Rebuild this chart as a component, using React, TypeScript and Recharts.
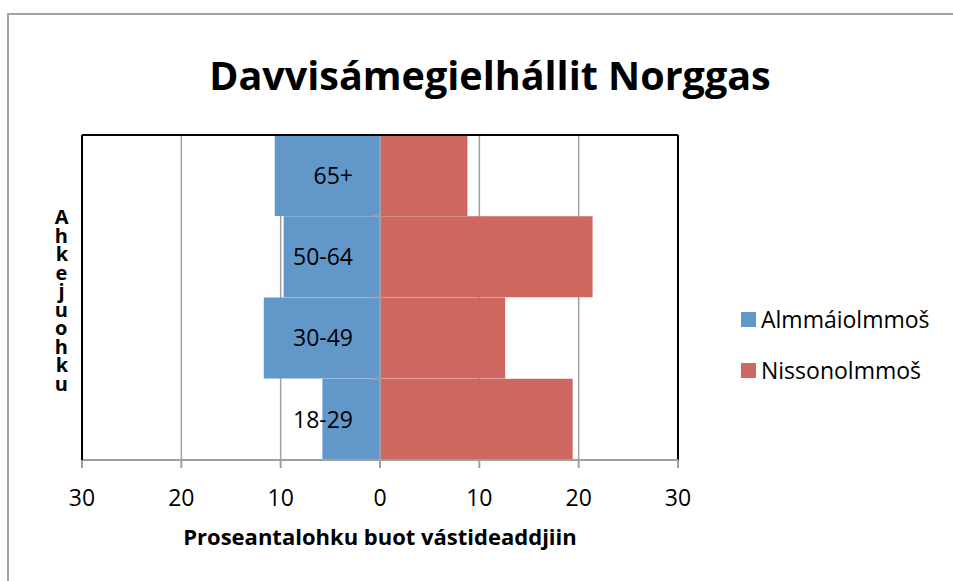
import React from 'react';
import {
  Bar,
  BarChart,
  CartesianGrid,
  ReferenceDot,
  ReferenceLine,
  XAxis,
  YAxis,
} from 'recharts';

const ageGroups = ['65+', '50-64', '30-49', '18-29'];
const menValues = [10.6, 9.7, 11.7, 5.8];
const womenValues = [8.8, 21.4, 12.6, 19.4];
const xTicks = [-30, -20, -10, 0, 10, 20, 30];

const seriesNames = ['Almmáiolmmoš', 'Nissonolmmoš'];
const seriesColors = ['#6297ca', '#cd6760'];

const chartTitle = 'Davvisámegielhállit Norggas';
const xTitle = 'Proseantalohku buot vástideaddjiin';
const yTitle = 'Ahkejuohku';

const font = '"Open Sans", sans-serif';

const chartData = ageGroups.map((age, i) => ({
  age,
  men: -menValues[i],
  women: womenValues[i],
}));

// blue bar + a small gray tick on the zero line at the top of its band
const MenBar = (props: any) => {
  const { x, y, width, height, fill } = props;
  const left = Math.min(x, x + width);
  const right = Math.max(x, x + width);
  return (
    <g>
      <rect x={left} y={y} width={right - left} height={height} fill={fill} />
      <line x1={right - 8} x2={right} y1={y} y2={y} stroke="#a0a0a0" strokeWidth={2} />
    </g>
  );
};

// letters stacked upright, one text element
const YTitle = () => (
  <text
    x={61}
    y={203}
    fontFamily={font}
    fontWeight="bold"
    fontSize={20}
    fill="#000"
    style={{
      writingMode: 'vertical-rl',
      textOrientation: 'upright',
      letterSpacing: '-8.5px',
    } as any}
  >
    {yTitle}
  </text>
);

export default function App() {
  return (
    <div
      style={{
        position: 'absolute',
        left: 0,
        top: 0,
        width: 953,
        height: 581,
        overflow: 'hidden',
        background: '#fff',
        fontFamily: font,
      }}
    >
      <div
        style={{
          position: 'absolute',
          left: 7,
          top: 13,
          width: 1000,
          height: 700,
          border: '2px solid #a3a3a3',
        }}
      />
      <div
        style={{
          position: 'absolute',
          left: 490,
          top: 56,
          transform: 'translateX(-50%)',
          whiteSpace: 'nowrap',
          fontSize: 39.5,
          lineHeight: 1,
          fontWeight: 'bold',
          color: '#000',
        }}
      >
        {chartTitle}
      </div>

      <div style={{ position: 'absolute', left: 0, top: 0 }}>
        <BarChart
          width={953}
          height={581}
          data={chartData}
          layout="vertical"
          stackOffset="sign"
          barCategoryGap={0}
          margin={{ top: 135, right: 275, bottom: 21, left: 0 }}
        >
          <CartesianGrid horizontal={false} stroke="#a0a0a0" strokeWidth={1.5} />
          <XAxis
            type="number"
            domain={[-30, 30]}
            ticks={xTicks}
            interval={0}
            allowDataOverflow
            tickFormatter={(v: number) => String(Math.abs(v))}
            stroke="#a0a0a0"
            strokeWidth={2}
            tickSize={8}
            tickMargin={22}
            height={100}
            tick={{ fill: '#000', fontSize: 23, fontFamily: font }}
            label={{
              value: xTitle,
              position: 'insideBottom',
              offset: 15,
              fill: '#000',
              fontSize: 22,
              fontWeight: 'bold',
              fontFamily: font,
            }}
          />
          <YAxis
            type="category"
            dataKey="age"
            width={82}
            tick={false}
            tickLine={false}
            axisLine={{ stroke: '#000', strokeWidth: 2 }}
            label={<YTitle />}
          />
          <Bar
            dataKey="men"
            name={seriesNames[0]}
            stackId="a"
            fill={seriesColors[0]}
            shape={<MenBar />}
            isAnimationActive={false}
          />
          <Bar
            dataKey="women"
            name={seriesNames[1]}
            stackId="a"
            fill={seriesColors[1]}
            isAnimationActive={false}
          />
          <ReferenceLine x={0} stroke="#a0a0a0" strokeWidth={2} />
          <ReferenceLine x={-30} stroke="#000" strokeWidth={2} />
          <ReferenceLine x={30} stroke="#000" strokeWidth={2} />
          <ReferenceLine y={ageGroups[0]} position="start" stroke="#000" strokeWidth={2} />
          {ageGroups.map((age) => (
            <ReferenceDot
              key={age}
              x={0}
              y={age}
              r={0}
              fill="none"
              stroke="none"
              label={{
                value: age,
                position: 'left',
                offset: 27,
                fill: '#000',
                fontSize: 23,
                fontFamily: font,
              }}
            />
          ))}
        </BarChart>
      </div>

      <div style={{ position: 'absolute', left: 741, top: 304 }}>
        {seriesNames.map((name, i) => (
          <div
            key={name}
            style={{
              display: 'flex',
              alignItems: 'center',
              height: 30,
              marginBottom: 21,
            }}
          >
            <div
              style={{
                width: 15,
                height: 15,
                background: seriesColors[i],
                marginRight: 5,
              }}
            />
            <span style={{ fontSize: 23, color: '#000', lineHeight: 1 }}>{name}</span>
          </div>
        ))}
      </div>
    </div>
  );
}
